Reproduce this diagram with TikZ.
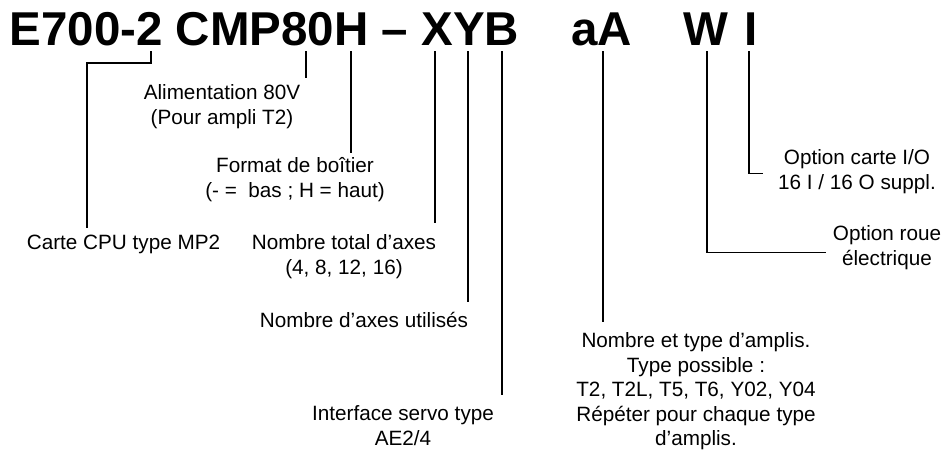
\documentclass[tikz,border=0pt]{standalone}
\usepackage{fontspec}
\setmainfont{Liberation Sans}
\usetikzlibrary{positioning}

\begin{document}
\begin{tikzpicture}[x=1pt,y=-1pt]
        \tikzset{code/.style= {anchor=base west, inner sep=0pt, font=\fontsize{47.5}{50}\selectfont\bfseries},
                 desc/.style= {anchor=north, align=center, inner sep=0pt, font=\fontsize{20.7}{24.5}\selectfont},
                 tick/.style= {line width=1.1pt},
        }
        \useasboundingbox (0,0) rectangle (946,450);

        \node [code] (title) at (9.5,45) {E700-2 CMP80H – XYB};
        \node [code] (ampA) at (571,45) {aA};
        \node [code] (wheelW) at (683,45) {W};
        \node [code] (ioI) at (744,45) {I};

        \node [coordinate] (t2) at (151,51) {};
        \node [coordinate] (t80) at (306,51) {};
        \node [coordinate] (tH) at (351,51) {};
        \node [coordinate] (tX) at (435,51) {};
        \node [coordinate] (tY) at (468,51) {};
        \node [coordinate] (tB) at (502,51) {};
        \node [coordinate] (tA) at (603,51) {};
        \node [coordinate] (tW) at (707,51) {};
        \node [coordinate] (tI) at (749,51) {};
        \node [coordinate] (cpubend) at (87,63) {};

        \node [desc] (cpu) at (123.5,234.5) {Carte CPU type MP2};
        \node [desc] (power) at (222,84.5) {Alimentation 80V\\(Pour ampli T2)};
        \node [desc] (case) at (295,157.5) {Format de boîtier\\(- =\ \ bas ; H = haut)};
        \node [desc] (total) at (344,234.5) {Nombre total d’axes\\(4, 8, 12, 16)};
        \node [desc] (used) at (364,312.5) {Nombre d’axes utilisés};
        \node [desc] (servo) at (403,405.5) {Interface servo type\\AE2/4};
        \node [desc] (amps) at (696,332.5) {Nombre et type d’amplis.\\Type possible :\\T2, T2L, T5, T6, Y02, Y04\\Répéter pour chaque type\\d’amplis.};
        \node [desc] (wheel) at (887,225.5) {Option roue\\électrique};
        \node [desc] (io) at (857,149.5) {Option carte I/O\\16 I / 16 O suppl.};

        \draw [tick, shorten >=6.5pt] (t2) |- (cpubend) -- (cpubend |- cpu.north);
        \draw [tick, shorten >=6.5pt] (t80) -- (t80 |- power.north);
        \draw [tick, shorten >=4.5pt] (tH) -- (tH |- case.north);
        \draw [tick, shorten >=11.5pt] (tX) -- (tX |- total.north);
        \draw [tick, shorten >=10.5pt] (tY) -- (tY |- used.north);
        \draw [tick, shorten >=10.5pt] (tB) -- (tB |- servo.north);
        \draw [tick, shorten >=10.5pt] (tA) -- (tA |- amps.north);
        \draw [tick] (tW) |- ([xshift=-7pt,yshift=-4.5pt]wheel.west);
        \draw [tick] (tI) |- ([xshift=-14.5pt,yshift=-1.5pt]io.west);
\end{tikzpicture}
\end{document}
